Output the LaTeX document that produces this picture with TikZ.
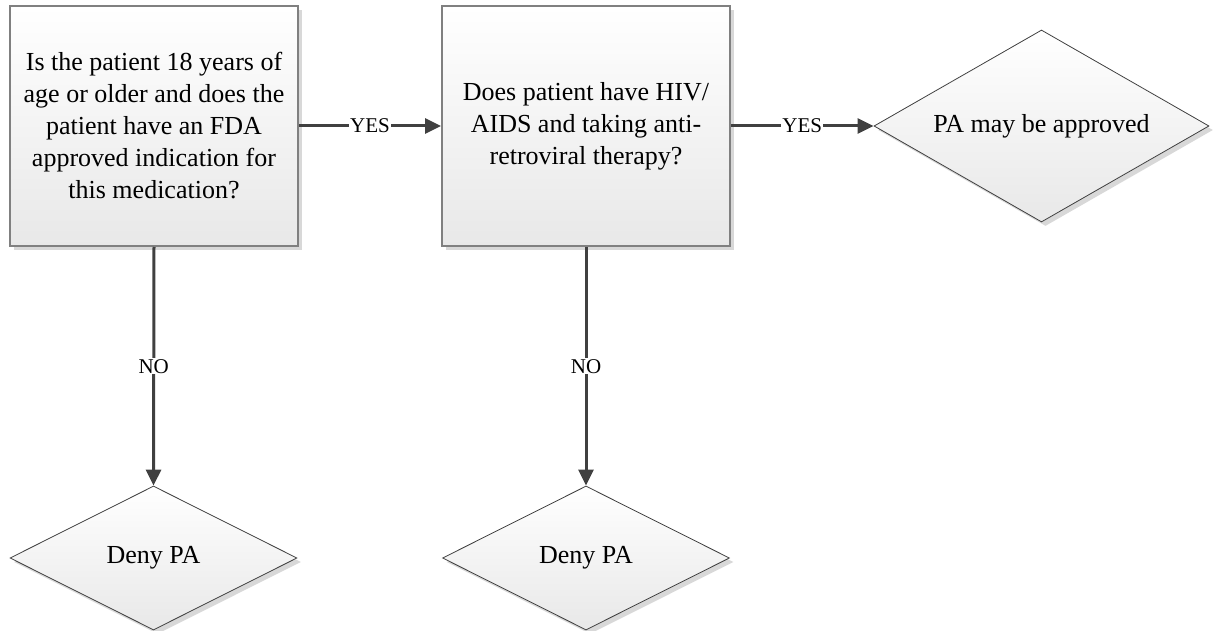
\documentclass[tikz,border=0pt]{standalone}
\usepackage{fontspec}
\setmainfont{Liberation Serif}
\usetikzlibrary{shapes.geometric,arrows.meta,shadows}
\definecolor{arrowgray}{HTML}{404040}
\definecolor{boxborder}{HTML}{808080}
\definecolor{shadowgray}{HTML}{D8D8D8}
\begin{document}
\begin{tikzpicture}[x=1pt,y=-1pt,
  qbox/.style={draw=boxborder,line width=2pt,rectangle,minimum width=288pt,minimum height=240pt,
    top color=white,bottom color=black!9,align=center,inner sep=0pt,
    font=\fontsize{26}{32}\selectfont,
    drop shadow={shadow xshift=4pt,shadow yshift=-4pt,fill=shadowgray,opacity=1}},
  dbox/.style={draw=arrowgray,line width=0.8pt,diamond,inner sep=0pt,
    top color=white,bottom color=black!9,
    font=\fontsize{26}{32}\selectfont,
    drop shadow={shadow xshift=4pt,shadow yshift=-4pt,fill=shadowgray,opacity=1}},
  conn/.style={draw=arrowgray,line width=3pt,-{Triangle[length=16pt,width=15pt]}},
  lab/.style={fill=white,inner sep=1pt,text=black,font=\fontsize{21}{24}\selectfont}
]
\useasboundingbox (0,0) rectangle (1215,631);
\node[qbox] (b1) at (154,126) {Is the patient 18 years of\\age or older and does the\\patient have an FDA\\approved indication for\\this medication?};
\node[qbox] (b2) at (586,126) {Does patient have HIV/\\AIDS and taking anti-\\retroviral therapy?};
\node[dbox,minimum width=335pt,minimum height=192pt,shape aspect=1.75] (ok) at (1041.5,126) {PA may be approved};
\node[dbox,minimum width=287pt,minimum height=144pt,shape aspect=2] (deny1) at (153.5,558) {Deny PA};
\node[dbox,minimum width=287pt,minimum height=144pt,shape aspect=2] (deny2) at (586,558) {Deny PA};
\draw[conn] (b1.east) -- node[lab]{YES} (b2.west);
\draw[conn] (b2.east) -- node[lab]{YES} (ok.west);
\draw[conn] (b1.south) -- node[lab]{NO} (deny1.north);
\draw[conn] (b2.south) -- node[lab]{NO} (deny2.north);
\end{tikzpicture}
\end{document}
